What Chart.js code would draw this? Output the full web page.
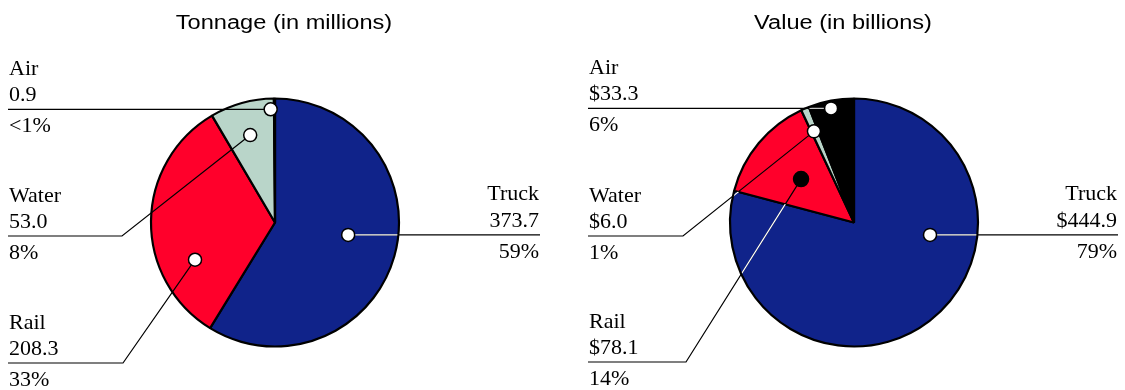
<!DOCTYPE html>
<html>
<head>
<meta charset="utf-8">
<script src="https://cdn.jsdelivr.net/npm/chart.js@4.4.1/dist/chart.umd.min.js"></script>
<style>
  body { margin: 0; background: #fff; width: 1125px; height: 390px; overflow: hidden; position: relative; }
  .panel { position: absolute; top: 0; width: 546px; height: 390px; }
</style>
</head>
<body>
<div class="panel" style="left:0"><canvas id="tonnage"></canvas></div>
<div class="panel" style="left:579px"><canvas id="value"></canvas></div>
<script>
const modes = ['Truck', 'Rail', 'Water', 'Air'];
const tonnage = [373.7, 208.3, 53.0, 0.9];
const value = [444.9, 78.1, 6.0, 33.3];
const modeColors = ['#10238a', '#ff002b', '#b9d5c9', '#000000'];
// leader line colour where it crosses a dark slice
const lineOnSlice = ['#ffffff', null, null, '#c4c4c4'];

// callout layout: dot offset in radius units, leader line y, line end x, optional elbow x
const tonnageCallouts = [
  { dx: 0.59, dy: 0.10, y: 236, end: 540, align: 'right' },
  { dx: -0.645, dy: 0.30, y: 363, end: 8, elbow: 123 },
  { dx: -0.20, dy: -0.705, y: 236, end: 8, elbow: 122 },
  { dx: -0.035, dy: -0.913, y: 109, end: 8 },
];
const valueCallouts = [
  { dx: 0.613, dy: 0.10, y: 236, end: 539, align: 'right' },
  { dx: -0.427, dy: -0.35, y: 362, end: 9, elbow: 107, dotFill: '#000', dotR: 7.5 },
  { dx: -0.323, dy: -0.735, y: 236, end: 9, elbow: 104 },
  { dx: -0.185, dy: -0.92, y: 109, end: 9 },
];

const pctLabel = (v, total) => {
  const p = (v / total) * 100;
  return p < 1 ? '<1%' : `${Math.round(p)}%`;
};

const calloutPlugin = {
  id: 'callouts',
  afterDatasetsDraw(chart, args, opts) {
    const ctx = chart.ctx;
    const arcs = chart.getDatasetMeta(0).data;
    const { x: cx, y: cy, outerRadius: R } = arcs[0];
    const data = chart.data.datasets[0].data;
    const total = data.reduce((acc, v) => acc + v, 0);

    const items = opts.callouts.map((c) => {
      const dot = { x: cx + c.dx * R, y: cy + c.dy * R };
      const lineY = c.elbow === undefined ? dot.y : c.y;
      const path = [[c.end, lineY]];
      if (c.elbow !== undefined) path.push([c.elbow, lineY]);
      path.push([dot.x, dot.y]);
      return { c, dot, lineY, path };
    });

    const strokePaths = (color) => {
      ctx.strokeStyle = color;
      ctx.lineWidth = 1.2;
      items.forEach(({ path }) => {
        ctx.beginPath();
        path.forEach(([px, py], i) => (i ? ctx.lineTo(px, py) : ctx.moveTo(px, py)));
        ctx.stroke();
      });
    };

    ctx.save();
    strokePaths('#000');
    arcs.forEach((arc, i) => {
      if (!lineOnSlice[i]) return;
      ctx.save();
      ctx.beginPath();
      ctx.moveTo(arc.x, arc.y);
      ctx.arc(arc.x, arc.y, arc.outerRadius - 1, arc.startAngle, arc.endAngle);
      ctx.closePath();
      ctx.clip();
      strokePaths(lineOnSlice[i]);
      ctx.restore();
    });

    // dots
    items.forEach(({ c, dot }) => {
      ctx.beginPath();
      ctx.arc(dot.x, dot.y, c.dotR || 6.5, 0, Math.PI * 2);
      ctx.fillStyle = c.dotFill || '#fff';
      ctx.fill();
      ctx.lineWidth = 1.5;
      ctx.strokeStyle = '#000';
      ctx.stroke();
    });

    // text
    ctx.fillStyle = '#000';
    ctx.font = '22px "Liberation Serif"';
    ctx.textBaseline = 'alphabetic';
    items.forEach(({ c, lineY }, i) => {
      const right = c.align === 'right';
      ctx.textAlign = right ? 'right' : 'left';
      const tx = right ? c.end - 1 : c.end + 1;
      ctx.fillText(chart.data.labels[i], tx, lineY - 34.5);
      ctx.fillText(opts.prefix + data[i].toFixed(1), tx, lineY - 8);
      ctx.fillText(pctLabel(data[i], total), tx, lineY + 23);
    });

    // title
    ctx.font = '20px "Liberation Sans"';
    ctx.textAlign = 'center';
    ctx.translate(opts.titleX, 28.5);
    ctx.scale(1.18, 1);
    ctx.fillText(opts.title, 0, 0);
    ctx.restore();
  },
};

const createPie = (id, values, callouts, title, titleX, prefix) => {
  return new Chart(document.getElementById(id), {
    type: 'pie',
    data: {
      labels: modes,
      datasets: [
        {
          data: values,
          backgroundColor: modeColors,
          borderColor: '#000',
          borderWidth: 2.2,
        },
      ],
    },
    options: {
      responsive: true,
      maintainAspectRatio: false,
      animation: false,
      events: [],
      radius: 124,
      layout: { padding: { left: 140, right: 136, top: 80, bottom: 25 } },
      plugins: {
        legend: { display: false },
        tooltip: { enabled: false },
        callouts: { callouts, title, titleX, prefix },
      },
    },
    plugins: [calloutPlugin],
  });
};

createPie('tonnage', tonnage, tonnageCallouts, 'Tonnage (in millions)', 284, '');
createPie('value', value, valueCallouts, 'Value (in billions)', 264, '$');
</script>
</body>
</html>
